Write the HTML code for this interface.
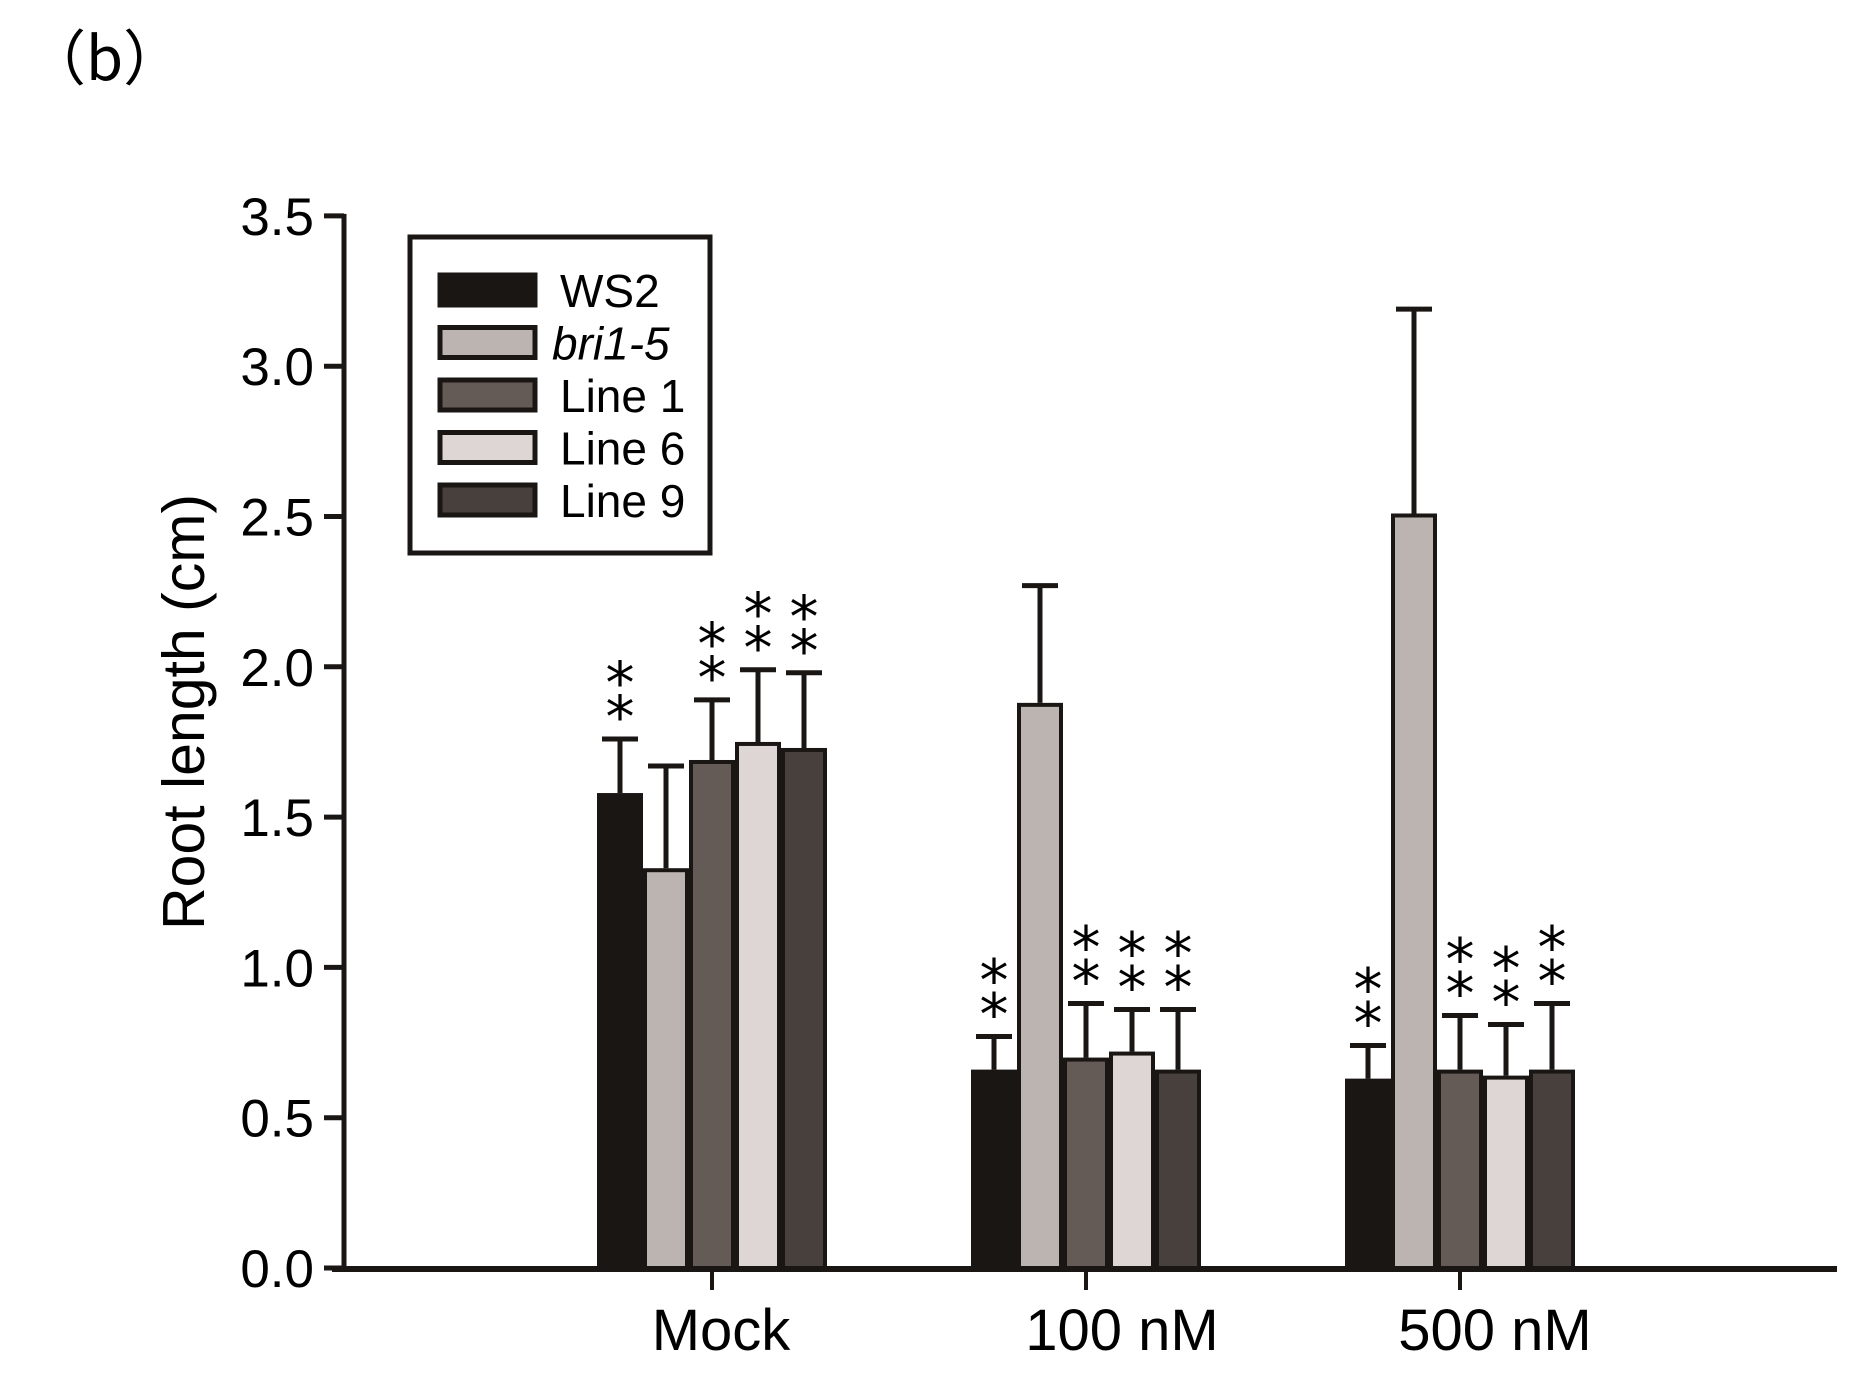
<!DOCTYPE html>
<html><head><meta charset="utf-8"><style>
body{margin:0;background:#fff}
svg{display:block;font-family:"Liberation Sans",sans-serif}
</style></head><body>
<svg width="1868" height="1377" viewBox="0 0 1868 1377">
<text x="26" y="80" font-size="60" font-family="'Noto Sans CJK SC',sans-serif">（b）</text>
<g id="plot"></g>
</svg>
<script>
const categories=["Mock","100 nM","500 nM"];
const series=["WS2","bri1-5","Line1","Line6","Line9"];
const colors=["#1a1614","#bcb4b0","#645a56","#ddd6d5","#47403c"];
const means=[[1.58,1.33,1.69,1.75,1.73],[0.66,1.88,0.70,0.72,0.66],[0.63,2.51,0.66,0.64,0.66]];
const errTops=[[1.76,1.67,1.89,1.99,1.98],[0.77,2.27,0.88,0.86,0.86],[0.74,3.19,0.84,0.81,0.88]];
const stars=[[true,false,true,true,true],[true,false,true,true,true],[true,false,true,true,true]];
const yTicks=[0,0.5,1.0,1.5,2.0,2.5,3.0,3.5];
const yTickLabels=["0.0","0.5","1.0","1.5","2.0","2.5","3.0","3.5"];

const NS="http://www.w3.org/2000/svg";
const g=document.getElementById('plot');
const x0=344,y0=1268,pxPerUnit=300.6,xEnd=1837;
const y=v=>y0-v*pxPerUnit;
const cx=i=>712+i*374;
const labelShift=[9,36,35];
const bw=46;
function el(t,a,p){const e=document.createElementNS(NS,t);for(const k in a)e.setAttribute(k,a[k]);(p||g).appendChild(e);return e;}

categories.forEach((c,i)=>{
  series.forEach((s,j)=>{
    const left=cx(i)-2.5*bw+j*bw;
    const v=means[i][j],t=errTops[i][j];
    const mx=left+bw/2;
    const eb=el('line',{x1:mx,x2:mx,y1:y(v),y2:y(t),stroke:'#1a1614','stroke-width':5});
    
    
    const cap=el('line',{x1:mx-18,x2:mx+18,y1:y(t),y2:y(t),stroke:'#1a1614','stroke-width':5});
    
    
    const r=el('rect',{x:left+2,y:y(v)+2,width:bw-4,height:y0-y(v)-2,fill:colors[j],stroke:'#1a1614','stroke-width':4});
    
    
    if(stars[i][j]){
      [0,1].forEach(k=>{
        const st=el('text',{x:mx,y:y(t)-2-k*34,'font-size':58,'text-anchor':'middle','font-family':'"DejaVu Sans",sans-serif'});
        st.textContent='*';
        
        
      });
    }
  });
  const tk=el('line',{x1:cx(i),x2:cx(i),y1:y0,y2:y0+22,stroke:'#1a1614','stroke-width':4});
  
  
  const lb=el('text',{x:cx(i)+labelShift[i],y:1350,'font-size':58,'text-anchor':'middle'});
  lb.textContent=c;
  
  
});
const ya=el('line',{x1:x0,x2:x0,y1:y(3.5)-2,y2:y0+3,stroke:'#1a1614','stroke-width':5});


const xa=el('line',{x1:x0-12,x2:xEnd,y1:y0+1,y2:y0+1,stroke:'#1a1614','stroke-width':6});


yTicks.forEach((v,k)=>{
  const t=el('line',{x1:x0-20,x2:x0,y1:y(v),y2:y(v),stroke:'#1a1614','stroke-width':5});
  
  
  const l=el('text',{x:314,y:y(v)+19,'font-size':53,'text-anchor':'end'});
  l.textContent=yTickLabels[k];
  
  
});
const yt=el('text',{x:0,y:0,'font-size':59,'text-anchor':'middle',transform:'translate(204,712) rotate(-90)'});
yt.textContent='Root length (cm)';


const lg=el('g',{});


el('rect',{x:410,y:237,width:300,height:316,fill:'#fff',stroke:'#1a1614','stroke-width':5},lg);
series.forEach((s,j)=>{
  const yy=275+j*52.5;
  const sw=el('rect',{x:440,y:yy,width:95,height:30,fill:colors[j],stroke:'#1a1614','stroke-width':5},lg);
  
  
  const tx=el('text',{x:j==1?552:560,y:yy+32,'font-size':46},lg);
  tx.textContent=j>=2?s.replace('Line','Line '):s;
  if(j==1)tx.setAttribute('font-style','italic');
  
  
});
</script>
</body></html>
